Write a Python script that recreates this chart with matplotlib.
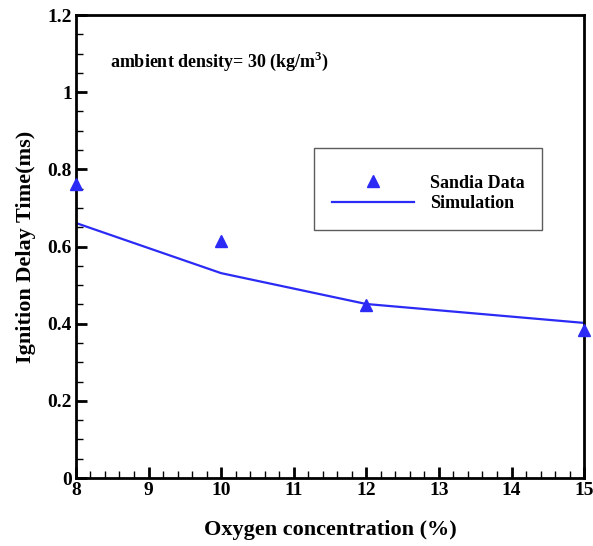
import matplotlib
matplotlib.use("Agg")
import matplotlib.pyplot as plt
from matplotlib.ticker import MultipleLocator

plt.rcParams['font.family'] = 'Liberation Serif'
plt.rcParams['font.weight'] = 'bold'
plt.rcParams['mathtext.fontset'] = 'custom'
plt.rcParams['mathtext.rm'] = 'Liberation Serif:bold'
plt.rcParams['mathtext.bf'] = 'Liberation Serif:bold'

# Sandia experiment
exp_o2 = [8, 10, 12, 15]
exp_delay = [0.762, 0.614, 0.448, 0.384]

# simulation
sim_o2 = [8, 10, 12, 15]
sim_delay = [0.661, 0.531, 0.451, 0.402]

fig = plt.figure(figsize=(5.93, 5.46), dpi=100)
ax = fig.add_axes([0.128, 0.1245, 0.857, 0.848])

ax.plot(exp_o2, exp_delay, linestyle='none', marker='^', markersize=9,
        color='#2b2bf5', label='Sandia Data', clip_on=False, zorder=3)
ax.plot(sim_o2, sim_delay, color='#2b2bf5', linewidth=1.6, label='Simulation')

ax.set_xlim(8, 15)
ax.set_ylim(0, 1.2)
ax.xaxis.set_major_locator(MultipleLocator(1))
ax.xaxis.set_minor_locator(MultipleLocator(0.2))
ax.yaxis.set_minor_locator(MultipleLocator(0.05))
ax.set_yticks([0, 0.2, 0.4, 0.6, 0.8, 1.0, 1.2])
ax.set_yticklabels(['0', '0.2', '0.4', '0.6', '0.8', '1', '1.2'])

ax.tick_params(which='major', direction='in', length=8, width=2, labelsize=14)
ax.tick_params(which='minor', direction='in', length=5, width=1)
ax.tick_params(axis='x', which='both', top=False, pad=3)
ax.tick_params(axis='y', which='both', right=False, pad=3)
for s in ax.spines.values():
    s.set_linewidth(2)

ax.set_xlabel('Oxygen concentration (%)', fontsize=16, fontweight='bold', labelpad=15)
ax.set_ylabel('Ignition Delay Time(ms)', fontsize=16, fontweight='bold', labelpad=8)

ax.text(0.067, 0.888, 'ambient density= 30 (kg/m$^{3}$)', transform=ax.transAxes,
        fontsize=13, fontweight='bold')

leg = ax.legend(loc='upper left', bbox_to_anchor=(0.469, 0.713), fontsize=13,
                frameon=True, fancybox=False, edgecolor='#333333', borderpad=1.0,
                handlelength=4.5, handletextpad=0.9, labelspacing=0.2,
                borderaxespad=0, title=' ', title_fontsize=5)
leg.get_frame().set_linewidth(1)

fig.savefig('out.png', dpi=100)
